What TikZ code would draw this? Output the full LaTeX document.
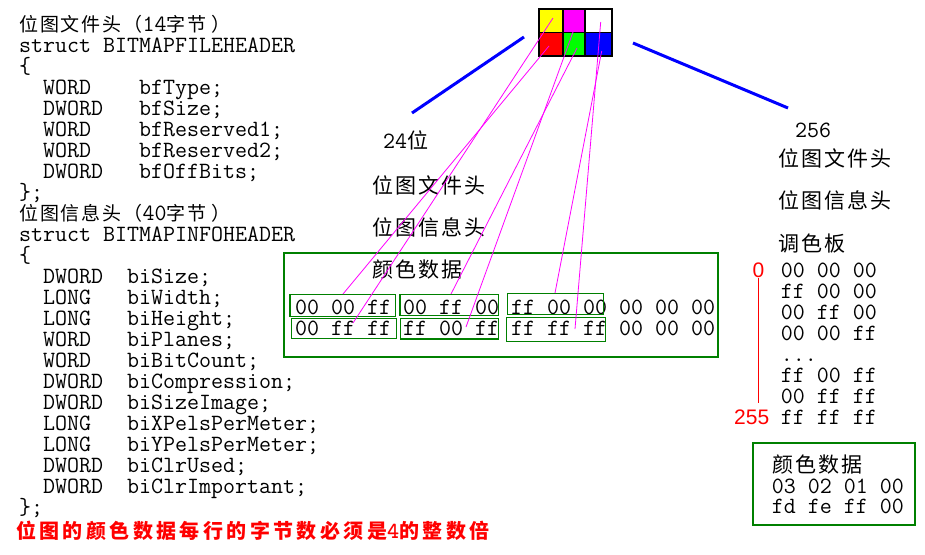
\documentclass[tikz,border=0pt]{standalone}
\usepackage{fontspec}
\newfontfamily\cjk{Noto Sans CJK SC}[LetterSpace=10]
\newfontfamily\cjkw{Noto Sans CJK SC}[LetterSpace=10]
\newfontfamily\cjkred{Noto Sans CJK SC}[LetterSpace=17]
\newfontfamily\digits{Liberation Sans}
\usepackage{tikz}
\definecolor{darkgreen}{RGB}{0,128,0}
\definecolor{pink}{RGB}{255,0,255}
\definecolor{pixred}{RGB}{255,0,0}
\definecolor{pixgreen}{RGB}{0,255,0}
\definecolor{pixblue}{RGB}{0,0,255}
\definecolor{pixyellow}{RGB}{255,255,0}
\tikzstyle{code} = [inner sep=0pt, anchor=base west, font=\ttfamily\fontsize{23.3}{22}\selectfont]
\tikzstyle{title} = [code, font=\cjk\fontsize{19}{19}\selectfont]
\tikzstyle{hanzi} = [code, font=\cjkw\fontsize{21}{21}\selectfont]
\tikzstyle{note} = [code, text=pixred, font=\cjkred\bfseries\fontsize{20}{20}\selectfont]
\tikzstyle{index} = [code, text=pixred, font=\digits\fontsize{21}{21}\selectfont]
\tikzstyle{bytebox} = [draw=darkgreen, line width=1.2pt]
\tikzstyle{cell} = [draw, line width=1.2pt, inner sep=0pt]
\tikzstyle{wire} = [draw, pink, line width=0.8pt]
\tikzstyle{zoomline} = [draw, pixblue, line width=3pt]

\begin{document}
\begin{tikzpicture}[x=1pt, y=-1pt]
\useasboundingbox (0,0) rectangle (925,554);

% struct definitions
\node [title] at (19, 31.5) (fhead) {位图文件头（{\ttfamily\fontsize{23.3}{21}\selectfont 14}字节\hspace{5pt}）};
\node [code] at (19, 52.5) (fstruct) {struct BITMAPFILEHEADER};
\node [code] at (19, 73.5) (fopen) {\{};
\foreach \t/\f [count=\i from 3] in {WORD/bfType;, DWORD/bfSize;, WORD/bfReserved1;, WORD/bfReserved2;, DWORD/bfOffBits;} {
  \node [code] at (43, 31.5+21*\i) (ft\i) {\t};
  \node [code] at (139, 31.5+21*\i) (fn\i) {\f};
}
\node [code] at (19, 199.5) (fclose) {\};};
\node [title] at (19, 220.5) (ihead) {位图信息头（{\ttfamily\fontsize{23.3}{21}\selectfont 40}字节\hspace{5pt}）};
\node [code] at (19, 241.5) (istruct) {struct BITMAPINFOHEADER};
\node [code] at (19, 262.5) (iopen) {\{};
\foreach \t/\f [count=\i from 12] in {DWORD/biSize;, LONG/biWidth;, LONG/biHeight;, WORD/biPlanes;, WORD/biBitCount;, DWORD/biCompression;, DWORD/biSizeImage;, LONG/biXPelsPerMeter;, LONG/biYPelsPerMeter;, DWORD/biClrUsed;, DWORD/biClrImportant;} {
  \node [code] at (43, 31.5+21*\i) (it\i) {\t};
  \node [code] at (127, 31.5+21*\i) (in\i) {\f};
}
\node [code] at (19, 514.5) (iclose) {\};};
\node [note] at (16, 538) (rule) {位图的颜色数据每行的字节数必须是{\ttfamily\bfseries\fontsize{23}{20}\selectfont 4}的整数倍};

% 2x3 image
\node [cell, fill=pixyellow, minimum width=24pt, minimum height=23.3pt] at (551, 20.7) (yel) {};
\node [cell, fill=pink, minimum width=22pt, minimum height=23.3pt] at (574, 20.7) (mag) {};
\node [cell, fill=white, minimum width=27pt, minimum height=23.3pt] at (598.5, 20.7) (wht) {};
\node [cell, fill=pixred, minimum width=24pt, minimum height=23.7pt] at (551, 44.2) (rd) {};
\node [cell, fill=pixgreen, minimum width=22pt, minimum height=23.7pt] at (574, 44.2) (grn) {};
\node [cell, fill=pixblue, minimum width=27pt, minimum height=23.7pt] at (598.5, 44.2) (blu) {};

% zoom lines
\coordinate (zl1) at (524, 37);
\coordinate (zl2) at (412, 113);
\coordinate (zr1) at (633, 43);
\coordinate (zr2) at (788, 108);
\path [zoomline] (zl1) to (zl2);
\path [zoomline] (zr1) to (zr2);

% 24 bit
\node [code] at (383, 148) (bits24) {24{\cjkw\fontsize{21}{21}\selectfont 位}};
\node [hanzi] at (372, 193) (file24) {位图文件头};
\node [hanzi] at (372, 235) (info24) {位图信息头};
\draw [darkgreen, line width=1.2pt] (284, 253) rectangle (718, 357);
\node [hanzi] at (372, 277) (data24) {颜色数据};
\node [code] at (295, 314) (row1) {00 00 ff 00 ff 00 ff 00 00 00 00 00};
\node [code] at (295, 335) (row2) {00 ff ff ff 00 ff ff ff ff 00 00 00};
\draw [bytebox] (290, 294.3) rectangle (395.7, 316.3);
\draw [bytebox] (400, 294.3) rectangle (498.7, 315.7);
\draw [bytebox] (507.7, 293.3) rectangle (603.3, 314.7);
\draw [bytebox] (291.7, 318.3) rectangle (396.3, 338.3);
\draw [bytebox] (400.3, 318.3) rectangle (498.7, 339);
\draw [bytebox] (506.3, 317.3) rectangle (605.3, 341.3);

% pixel -> bytes
\coordinate (pyel) at (553, 18);
\coordinate (prd) at (549, 46);
\coordinate (pmag) at (573, 32);
\coordinate (pgrn) at (577, 48);
\coordinate (pwht) at (600.7, 22);
\coordinate (pblu) at (601.7, 51);
\coordinate (byel) at (353, 323);
\coordinate (brd) at (343, 294);
\coordinate (bmag) at (466, 327);
\coordinate (bgrn) at (451, 294);
\coordinate (bwht) at (575, 329);
\coordinate (bblu) at (555, 293);
\path [wire] (pyel) to (byel);
\path [wire] (prd) to (brd);
\path [wire] (pmag) to (bmag);
\path [wire] (pgrn) to (bgrn);
\path [wire] (pwht) to (bwht);
\path [wire] (pblu) to (bblu);

% 256 colours
\node [code] at (795, 137) (bits256) {256};
\node [hanzi] at (778, 166.5) (file256) {位图文件头};
\node [hanzi] at (778, 208.5) (info256) {位图信息头};
\node [hanzi] at (778, 251) (pal) {调色板};
\node [code] at (780.7, 277) (pal0) {00 00 00};
\node [code] at (780.7, 298) (pal1) {ff 00 00};
\node [code] at (780.7, 319) (pal2) {00 ff 00};
\node [code] at (780.7, 340) (pal3) {00 00 ff};
\node [code] at (780.7, 361) (pal4) {...};
\node [code] at (780.7, 382) (pal5) {ff 00 ff};
\node [code] at (780.7, 403) (pal6) {00 ff ff};
\node [code] at (780.7, 424) (pal7) {ff ff ff};
\node [index] at (752.5, 277) (zero) {0};
\node [index] at (734, 424) (max) {255};
\draw [pixred, line width=1pt] ([yshift=-1pt]zero.south) -- ([yshift=6pt]zero.south |- max.north);

\draw [darkgreen, line width=1.2pt] (753, 443) rectangle (915, 525);
\node [hanzi] at (772, 472) (data256) {颜色数据};
\node [code] at (771.7, 493) (idx1) {03 02 01 00};
\node [code] at (771.7, 513.5) (idx2) {fd fe ff 00};

\end{tikzpicture}
\end{document}
